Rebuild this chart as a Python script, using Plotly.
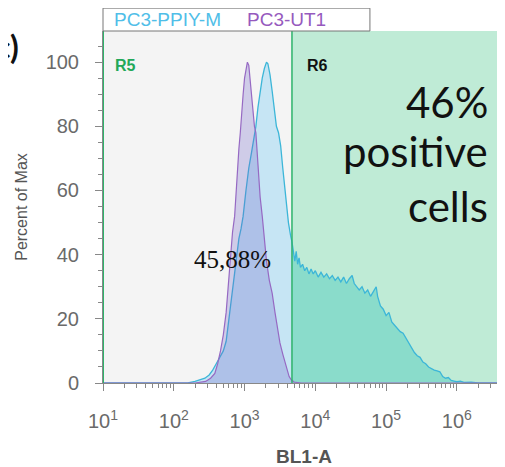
import plotly.graph_objects as go

# ---------------- data ----------------
# BL1-A values given as log10 exponents; histogram height in % of max
ut1_log = [1.00, 2.30, 2.45, 2.52, 2.58, 2.62, 2.66, 2.70, 2.74, 2.77, 2.80, 2.83,
           2.86, 2.88, 2.90, 2.92, 2.94, 2.96, 2.98, 3.00, 3.02, 3.04, 3.06, 3.08,
           3.10, 3.12, 3.14, 3.16, 3.18, 3.20, 3.22, 3.25, 3.28, 3.31, 3.35, 3.39,
           3.43, 3.47, 3.50, 3.54, 3.57, 3.60, 3.63, 3.66, 3.70, 3.80, 6.68]
ut1_pct = [0, 0, 0.5, 1.5, 3, 6, 10, 15, 22, 30, 40, 47,
           52, 60, 68, 73, 78, 85, 90, 95, 98, 100, 99, 94,
           90, 85, 80, 78, 70, 63, 58, 52, 45, 38, 32, 28,
           22, 16, 12.5, 9, 6.5, 4.5, 2, 1, 0.3, 0, 0]

ppiy_log = [1.00, 2.20, 2.30, 2.38, 2.44, 2.50, 2.55, 2.60, 2.65, 2.70, 2.74, 2.78,
            2.82, 2.86, 2.89, 2.92, 2.95, 2.98, 3.02, 3.06, 3.10, 3.13, 3.16, 3.19,
            3.22, 3.25, 3.28, 3.31, 3.33, 3.36, 3.39, 3.42, 3.45, 3.48, 3.51, 3.54,
            3.57, 3.60, 3.62, 3.65, 3.67, 3.69, 3.71, 3.73, 3.75, 3.77, 3.79, 3.82,
            3.85, 3.88, 3.91, 3.94, 3.97, 4.00, 4.04, 4.08, 4.12, 4.16, 4.20, 4.24,
            4.28, 4.32, 4.36, 4.40, 4.44, 4.48, 4.52, 4.55, 4.58, 4.62, 4.66, 4.70,
            4.74, 4.78, 4.82, 4.86, 4.88, 4.92, 4.96, 5.00, 5.04, 5.08, 5.12, 5.16,
            5.20, 5.24, 5.28, 5.32, 5.36, 5.40, 5.44, 5.48, 5.52, 5.56, 5.60, 5.64,
            5.68, 5.72, 5.76, 5.80, 5.84, 5.88, 5.92, 5.96, 6.00, 6.05, 6.10, 6.20,
            6.30, 6.68]
ppiy_pct = [0, 0, 0.5, 1, 1.5, 2.5, 4, 6, 8, 10, 13, 20,
            28, 35, 40, 45, 48, 52, 60, 67, 72, 76, 80, 86,
            91, 95, 98, 100, 99.5, 96, 91, 85, 80, 78, 74, 67,
            60, 54, 50, 46, 44, 41, 38, 41, 37, 39, 36, 37,
            35, 36, 34, 35.5, 34, 35, 33, 34.5, 33, 34, 32.5, 33.5,
            32, 33, 31.5, 33, 31, 32.5, 33.5, 31, 30, 29, 30, 28,
            29, 27, 28.5, 30, 27, 24, 23, 21, 22, 19, 18, 17,
            16, 15.5, 14, 12.5, 11, 9.5, 8.5, 8, 6.5, 6, 5, 4.5,
            4, 3.8, 3.5, 2, 1.5, 1.7, 0.8, 0.6, 0.4, 0.6, 0.2, 0.3,
            0, 0]

gate_log = 3.67          # R5 / R6 boundary
x_range_log = [1, 6.68]
y_range = [0, 109.7]

tick_exps = [1, 2, 3, 4, 5, 6]
tick_text = ["10<sup>%d</sup>" % e for e in tick_exps]
y_ticks = [0, 20, 40, 60, 80, 100]

series_names = ["PC3-PPIY-M", "PC3-UT1"]

# ---------------- styles ----------------
CYAN_LINE = "rgb(60,182,216)"
CYAN_FILL_R5 = "rgb(198,229,244)"
CYAN_FILL_R6 = "rgb(138,220,203)"
PURPLE_LINE = "rgb(150,105,195)"
PURPLE_FILL = "rgba(110,100,200,0.28)"
GATE_GREEN = "rgb(46,179,107)"
R5_BG = "rgb(244,244,244)"
R6_BG = "rgb(191,235,214)"
GRAY = "#6a6a6a"

gate = 10 ** gate_log
px_x = [10 ** v for v in ppiy_log]
ux = [10 ** v for v in ut1_log]

a_x = [x for x, l in zip(px_x, ppiy_log) if l <= gate_log]
a_y = [p for p, l in zip(ppiy_pct, ppiy_log) if l <= gate_log]
b_x = [x for x, l in zip(px_x, ppiy_log) if l >= gate_log]
b_y = [p for p, l in zip(ppiy_pct, ppiy_log) if l >= gate_log]

fig = go.Figure()
fig.add_trace(go.Scatter(x=a_x, y=a_y, mode="lines", fill="tozeroy",
                         fillcolor=CYAN_FILL_R5, line=dict(color=CYAN_LINE, width=1.3),
                         name=series_names[0], showlegend=False))
fig.add_trace(go.Scatter(x=b_x, y=b_y, mode="lines", fill="tozeroy",
                         fillcolor=CYAN_FILL_R6, line=dict(color=CYAN_LINE, width=1.3),
                         name=series_names[0], showlegend=False))
fig.add_trace(go.Scatter(x=ux, y=ut1_pct, mode="lines", fill="tozeroy",
                         fillcolor=PURPLE_FILL, line=dict(color=PURPLE_LINE, width=1.2),
                         name=series_names[1], showlegend=False))

x_lo, x_hi = 10 ** x_range_log[0], 10 ** x_range_log[1]
fig.add_shape(type="rect", xref="x", yref="paper", x0=x_lo, x1=gate, y0=0, y1=1,
              fillcolor=R5_BG, line=dict(width=0), layer="below")
fig.add_shape(type="rect", xref="x", yref="paper", x0=gate, x1=x_hi, y0=0, y1=1,
              fillcolor=R6_BG, line=dict(width=0), layer="below")
fig.add_shape(type="line", xref="x", yref="paper", x0=gate, x1=gate, y0=0, y1=1,
              line=dict(color=GATE_GREEN, width=1.5), layer="above")
fig.add_shape(type="line", xref="x", yref="paper", x0=x_lo, x1=x_lo, y0=0, y1=1,
              line=dict(color=GATE_GREEN, width=2), layer="above")

# legend box
fig.add_shape(type="rect", xref="paper", yref="paper", x0=0, x1=0.664, y0=1, y1=1.065,
              fillcolor="white", line=dict(color="#777", width=1))
fig.add_annotation(xref="paper", yref="paper", x=0.022, y=1.034, xanchor="left",
                   yanchor="middle", text=series_names[0], showarrow=False,
                   font=dict(family="Liberation Sans", size=19, color="rgb(80,190,232)"))
fig.add_annotation(xref="paper", yref="paper", x=0.353, y=1.034, xanchor="left",
                   yanchor="middle", text=series_names[1], showarrow=False,
                   font=dict(family="Liberation Sans", size=19, color="rgb(150,90,190)"))

# gate labels
fig.add_annotation(xref="paper", yref="y", x=0.025, y=98.8, xanchor="left", yanchor="middle",
                   text="<b>R5</b>", showarrow=False,
                   font=dict(family="Liberation Sans", size=16, color="rgb(34,168,89)"))
fig.add_annotation(xref="paper", yref="y", x=0.502, y=98.8, xanchor="left", yanchor="middle",
                   text="<b>R6</b>", showarrow=False,
                   font=dict(family="Liberation Sans", size=16, color="#111"))

for txt, yy in [("46%", 87.5), ("positive", 72.3), ("cells", 55.1)]:
    fig.add_annotation(xref="paper", yref="y", x=0.963, y=yy, xanchor="right",
                       yanchor="middle", text=txt, showarrow=False,
                       font=dict(family="Lato", size=42, color="#111"))

fig.add_annotation(xref="paper", yref="y", x=0.323, y=38.6, xanchor="center",
                   yanchor="middle", text="45,88%", showarrow=False,
                   font=dict(family="Liberation Serif", size=25, color="#111"))

fig.add_annotation(xref="paper", yref="paper", x=-0.203, y=0.955, xanchor="right",
                   yanchor="middle", text="<b>c)</b>", showarrow=False,
                   font=dict(family="Lato", size=32, color="#111"))

minor_x = [m * 10 ** e for e in range(1, 7) for m in range(2, 10)]

fig.update_xaxes(type="log", range=x_range_log, tickvals=[10 ** e for e in tick_exps],
                 ticktext=tick_text, ticks="outside", ticklen=7, tickcolor="#888",
                 showline=True, linecolor="#888", linewidth=1, showgrid=False,
                 zeroline=False, ticklabelstandoff=13, automargin=False,
                 tickfont=dict(family="Liberation Sans", size=20, color=GRAY),
                 minor=dict(tickvals=minor_x, ticks="outside", ticklen=4, tickcolor="#888"),
                 title=dict(text="<b>BL1-A</b>", standoff=21,
                            font=dict(family="Liberation Sans", size=19, color="#555")))
fig.update_yaxes(range=y_range, tickvals=y_ticks, ticks="outside", ticklen=7,
                 tickcolor="#888", showline=True, linecolor="#888", linewidth=1,
                 showgrid=False, zeroline=False, ticklabelstandoff=12, automargin=False,
                 tickfont=dict(family="Liberation Sans", size=20, color=GRAY),
                 minor=dict(dtick=5, ticks="outside", ticklen=4, tickcolor="#888"),
                 title=dict(text="Percent of Max", standoff=14,
                            font=dict(family="Liberation Sans", size=16, color="#555")))

# the page body adds an 8px offset, so the figure is sized/margined to land on the reference
fig.update_layout(width=497, height=459, margin=dict(l=95, r=0, t=23, b=84, autoexpand=False),
                  plot_bgcolor="white", paper_bgcolor="white", showlegend=False)

fig.write_html("out.html")
